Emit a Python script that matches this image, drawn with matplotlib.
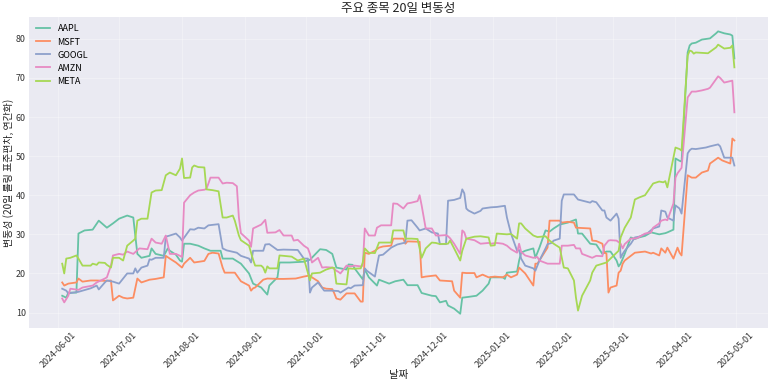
import matplotlib
matplotlib.use("Agg")
import matplotlib.pyplot as plt
import matplotlib.dates as mdates
import pandas as pd

plt.rcParams['font.family'] = ['Noto Sans CJK KR', 'DejaVu Sans']

# 20일 롤링 변동성 (연간화, %) - 그림에서 읽은 값
aapl = [("2024-06-03",14.3),("2024-06-05",13.8),("2024-06-06",15.1),("2024-06-10",15.1),("2024-06-11",30.2),("2024-06-14",31.0),("2024-06-18",31.2),("2024-06-21",33.5),("2024-06-25",31.7),("2024-06-28",32.8),("2024-07-01",34.0),("2024-07-05",34.8),("2024-07-08",34.3),("2024-07-10",25.0),("2024-07-12",24.0),("2024-07-16",24.5),("2024-07-17",26.4),("2024-07-19",25.0),("2024-07-23",24.5),("2024-07-25",26.4),("2024-07-26",25.8),("2024-07-29",24.8),("2024-07-31",23.3),("2024-08-01",23.0),("2024-08-02",27.6),("2024-08-05",27.6),("2024-08-09",27.1),("2024-08-12",26.4),("2024-08-15",25.8),("2024-08-20",25.8),("2024-08-21",23.8),("2024-08-26",23.8),("2024-08-30",22.5),("2024-09-03",20.0),("2024-09-05",17.4),("2024-09-09",16.4),("2024-09-12",14.6),("2024-09-13",16.9),("2024-09-17",19.0),("2024-09-18",22.8),("2024-09-23",22.8),("2024-09-30",23.0),("2024-10-03",23.5),("2024-10-08",26.2),("2024-10-11",26.0),("2024-10-14",25.0),("2024-10-16",21.5),("2024-10-21",21.0),("2024-10-22",22.3),("2024-10-24",22.2),("2024-10-25",21.3),("2024-10-29",18.5),("2024-10-30",21.0),("2024-11-01",19.0),("2024-11-05",16.9),("2024-11-06",18.4),("2024-11-11",17.4),("2024-11-14",18.0),("2024-11-18",18.4),("2024-11-20",17.0),("2024-11-25",17.0),("2024-11-27",15.0),("2024-12-02",14.3),("2024-12-04",14.2),("2024-12-06",12.6),("2024-12-09",13.0),("2024-12-10",11.8),("2024-12-13",11.0),("2024-12-16",9.7),("2024-12-17",13.8),("2024-12-20",14.0),("2024-12-24",14.3),("2024-12-27",15.6),("2024-12-30",17.4),("2024-12-31",19.0),("2025-01-06",19.0),("2025-01-07",18.6),("2025-01-08",20.2),("2025-01-13",20.5),("2025-01-14",23.3),("2025-01-15",25.3),("2025-01-17",25.8),("2025-01-21",26.4),("2025-01-22",24.0),("2025-01-24",26.6),("2025-01-27",31.0),("2025-01-29",30.7),("2025-01-31",31.5),("2025-02-03",32.5),("2025-02-07",33.0),("2025-02-11",33.8),("2025-02-12",30.2),("2025-02-14",30.2),("2025-02-18",27.6),("2025-02-21",27.4),("2025-02-24",25.0),("2025-02-26",25.6),("2025-02-28",25.6),("2025-03-03",23.3),("2025-03-04",21.8),("2025-03-05",22.5),("2025-03-07",25.0),("2025-03-10",29.2),("2025-03-12",28.8),("2025-03-14",29.2),("2025-03-17",29.6),("2025-03-20",30.5),("2025-03-24",30.0),("2025-03-27",30.3),("2025-03-28",30.5),("2025-03-31",31.2),("2025-04-01",49.4),("2025-04-03",48.8),("2025-04-04",48.6),("2025-04-07",76.5),("2025-04-08",78.3),("2025-04-09",78.8),("2025-04-11",79.0),("2025-04-14",79.8),("2025-04-18",80.1),("2025-04-21",81.4),("2025-04-22",81.9),("2025-04-25",81.4),("2025-04-28",81.1),("2025-04-29",80.8),("2025-04-30",75.0)]

msft = [("2024-06-03",17.7),("2024-06-04",16.9),("2024-06-06",17.4),("2024-06-10",17.7),("2024-06-11",18.7),("2024-06-13",17.9),("2024-06-17",18.2),("2024-06-20",18.2),("2024-06-24",18.1),("2024-06-27",18.2),("2024-06-28",13.1),("2024-07-01",14.3),("2024-07-03",13.8),("2024-07-05",13.6),("2024-07-08",13.8),("2024-07-10",18.7),("2024-07-12",17.7),("2024-07-16",18.4),("2024-07-19",18.6),("2024-07-23",19.0),("2024-07-24",24.5),("2024-07-26",23.8),("2024-07-29",22.8),("2024-08-01",21.5),("2024-08-02",22.5),("2024-08-05",24.0),("2024-08-07",22.8),("2024-08-12",23.2),("2024-08-14",25.0),("2024-08-16",25.3),("2024-08-19",25.1),("2024-08-21",21.5),("2024-08-22",20.2),("2024-08-27",20.2),("2024-08-30",18.0),("2024-09-03",16.9),("2024-09-04",15.6),("2024-09-05",16.2),("2024-09-06",16.4),("2024-09-10",18.4),("2024-09-12",18.7),("2024-09-18",18.6),("2024-09-20",18.6),("2024-09-26",18.7),("2024-09-30",19.2),("2024-10-03",19.5),("2024-10-04",19.0),("2024-10-07",18.0),("2024-10-09",16.4),("2024-10-11",16.1),("2024-10-14",16.0),("2024-10-15",14.9),("2024-10-16",13.6),("2024-10-18",13.3),("2024-10-21",14.9),("2024-10-25",14.9),("2024-10-28",12.8),("2024-10-29",12.8),("2024-10-30",25.3),("2024-11-01",25.0),("2024-11-04",25.8),("2024-11-06",26.6),("2024-11-08",26.9),("2024-11-12",27.1),("2024-11-13",28.9),("2024-11-18",28.9),("2024-11-19",27.6),("2024-11-20",28.2),("2024-11-26",28.1),("2024-11-27",19.0),("2024-11-29",19.2),("2024-12-04",19.5),("2024-12-06",18.2),("2024-12-12",18.0),("2024-12-13",15.6),("2024-12-16",13.8),("2024-12-17",20.2),("2024-12-19",20.1),("2024-12-23",20.1),("2024-12-24",19.0),("2024-12-27",19.7),("2024-12-30",19.0),("2025-01-02",19.2),("2025-01-06",19.0),("2025-01-08",19.7),("2025-01-10",19.0),("2025-01-13",19.7),("2025-01-14",21.5),("2025-01-17",20.0),("2025-01-21",16.9),("2025-01-22",22.5),("2025-01-23",22.5),("2025-01-27",25.8),("2025-01-28",26.6),("2025-01-29",33.5),("2025-02-03",33.5),("2025-02-04",33.0),("2025-02-07",33.2),("2025-02-10",33.0),("2025-02-11",31.7),("2025-02-18",31.5),("2025-02-19",28.4),("2025-02-21",28.3),("2025-02-24",27.6),("2025-02-25",25.3),("2025-02-26",25.1),("2025-02-27",15.1),("2025-02-28",16.4),("2025-03-03",16.9),("2025-03-04",20.2),("2025-03-05",20.7),("2025-03-06",22.5),("2025-03-07",23.3),("2025-03-12",25.3),("2025-03-17",25.6),("2025-03-20",25.1),("2025-03-21",25.3),("2025-03-24",24.6),("2025-03-25",26.4),("2025-03-27",25.3),("2025-03-28",26.6),("2025-03-31",23.8),("2025-04-02",26.6),("2025-04-03",25.3),("2025-04-04",24.6),("2025-04-07",45.1),("2025-04-09",44.5),("2025-04-11",44.5),("2025-04-14",45.8),("2025-04-17",46.3),("2025-04-18",48.1),("2025-04-22",49.6),("2025-04-24",48.9),("2025-04-28",48.1),("2025-04-29",54.5),("2025-04-30",54.0)]

googl = [("2024-06-03",16.1),("2024-06-05",15.6),("2024-06-06",14.9),("2024-06-11",15.3),("2024-06-13",15.6),("2024-06-17",16.2),("2024-06-20",16.9),("2024-06-21",15.9),("2024-06-24",17.7),("2024-06-25",18.2),("2024-06-28",17.9),("2024-07-01",17.4),("2024-07-03",18.7),("2024-07-05",20.0),("2024-07-08",20.0),("2024-07-09",21.3),("2024-07-10",20.2),("2024-07-12",21.5),("2024-07-15",22.0),("2024-07-16",23.6),("2024-07-17",23.5),("2024-07-19",24.0),("2024-07-23",24.0),("2024-07-24",29.4),("2024-07-26",29.7),("2024-07-29",30.2),("2024-07-31",29.2),("2024-08-01",28.4),("2024-08-05",31.3),("2024-08-07",31.2),("2024-08-09",31.7),("2024-08-12",31.5),("2024-08-14",32.3),("2024-08-19",32.6),("2024-08-21",26.4),("2024-08-23",25.9),("2024-08-28",25.3),("2024-08-30",24.5),("2024-09-03",23.8),("2024-09-04",22.8),("2024-09-05",25.8),("2024-09-10",25.8),("2024-09-11",27.4),("2024-09-13",27.5),("2024-09-17",26.0),("2024-09-20",26.1),("2024-09-27",26.0),("2024-09-30",23.8),("2024-10-02",23.8),("2024-10-03",15.1),("2024-10-04",16.4),("2024-10-07",17.7),("2024-10-08",17.0),("2024-10-10",15.6),("2024-10-14",15.6),("2024-10-17",15.5),("2024-10-18",15.1),("2024-10-22",16.4),("2024-10-23",16.2),("2024-10-25",16.9),("2024-10-29",17.0),("2024-10-30",21.3),("2024-10-31",20.7),("2024-11-04",19.2),("2024-11-05",22.0),("2024-11-06",24.6),("2024-11-08",24.8),("2024-11-12",26.6),("2024-11-15",27.4),("2024-11-19",27.9),("2024-11-20",33.5),("2024-11-22",33.6),("2024-11-25",31.7),("2024-11-26",31.0),("2024-11-29",31.5),("2024-12-02",30.5),("2024-12-05",30.2),("2024-12-06",27.5),("2024-12-09",27.5),("2024-12-10",38.6),("2024-12-13",38.8),("2024-12-16",39.3),("2024-12-17",41.5),("2024-12-18",40.5),("2024-12-19",36.6),("2024-12-20",36.1),("2024-12-23",35.3),("2024-12-26",36.0),("2024-12-27",36.6),("2024-12-31",36.9),("2025-01-03",37.0),("2025-01-07",37.3),("2025-01-08",34.3),("2025-01-10",30.2),("2025-01-13",25.8),("2025-01-14",26.0),("2025-01-15",23.8),("2025-01-17",22.0),("2025-01-21",21.3),("2025-01-22",20.7),("2025-01-24",23.3),("2025-01-27",26.4),("2025-01-28",27.5),("2025-01-30",27.8),("2025-01-31",28.4),("2025-02-03",28.9),("2025-02-04",38.6),("2025-02-05",40.2),("2025-02-10",40.2),("2025-02-12",38.9),("2025-02-18",38.1),("2025-02-19",38.5),("2025-02-21",38.2),("2025-02-24",36.1),("2025-02-25",36.1),("2025-02-26",34.3),("2025-02-28",33.5),("2025-03-03",35.3),("2025-03-04",34.0),("2025-03-05",24.0),("2025-03-06",25.0),("2025-03-07",25.8),("2025-03-10",27.6),("2025-03-12",29.2),("2025-03-14",29.4),("2025-03-18",30.2),("2025-03-21",31.5),("2025-03-24",32.0),("2025-03-25",36.1),("2025-03-27",35.8),("2025-03-28",34.3),("2025-03-31",33.5),("2025-04-01",37.4),("2025-04-03",36.6),("2025-04-04",35.3),("2025-04-07",50.7),("2025-04-08",51.5),("2025-04-09",51.9),("2025-04-11",51.8),("2025-04-16",52.2),("2025-04-18",52.5),("2025-04-22",53.0),("2025-04-23",52.5),("2025-04-25",49.6),("2025-04-29",49.6),("2025-04-30",47.6)]

amzn = [("2024-06-03",13.6),("2024-06-04",12.6),("2024-06-06",14.3),("2024-06-07",16.1),("2024-06-11",15.8),("2024-06-13",16.4),("2024-06-18",16.9),("2024-06-20",17.7),("2024-06-24",18.7),("2024-06-25",19.0),("2024-06-27",22.0),("2024-06-28",24.6),("2024-07-01",25.0),("2024-07-03",24.8),("2024-07-05",25.6),("2024-07-08",25.0),("2024-07-11",26.4),("2024-07-15",26.2),("2024-07-17",28.9),("2024-07-19",27.9),("2024-07-22",27.6),("2024-07-24",29.7),("2024-07-26",25.0),("2024-07-29",25.0),("2024-07-31",24.5),("2024-08-01",24.2),("2024-08-02",38.1),("2024-08-05",40.0),("2024-08-07",40.7),("2024-08-09",41.2),("2024-08-12",41.4),("2024-08-13",41.6),("2024-08-14",43.0),("2024-08-15",44.5),("2024-08-19",44.5),("2024-08-21",43.0),("2024-08-23",43.2),("2024-08-26",43.1),("2024-08-28",42.3),("2024-08-29",34.3),("2024-08-30",30.3),("2024-09-03",28.4),("2024-09-04",26.8),("2024-09-05",31.5),("2024-09-09",32.5),("2024-09-11",33.7),("2024-09-12",30.4),("2024-09-16",30.5),("2024-09-18",31.1),("2024-09-20",29.7),("2024-09-24",29.7),("2024-09-25",28.4),("2024-09-27",28.6),("2024-09-30",27.1),("2024-10-02",26.4),("2024-10-03",25.0),("2024-10-04",22.8),("2024-10-07",24.0),("2024-10-09",21.5),("2024-10-11",21.6),("2024-10-14",21.5),("2024-10-16",20.7),("2024-10-17",20.4),("2024-10-18",20.0),("2024-10-21",22.0),("2024-10-23",21.8),("2024-10-25",22.0),("2024-10-28",21.8),("2024-10-29",22.0),("2024-10-30",31.5),("2024-11-01",29.7),("2024-11-04",29.7),("2024-11-05",31.7),("2024-11-07",32.3),("2024-11-12",32.3),("2024-11-13",37.9),("2024-11-15",37.8),("2024-11-18",36.6),("2024-11-20",37.9),("2024-11-22",38.1),("2024-11-25",38.5),("2024-11-26",40.0),("2024-11-27",37.4),("2024-11-29",31.5),("2024-12-02",31.5),("2024-12-04",29.7),("2024-12-06",29.7),("2024-12-09",29.8),("2024-12-10",29.5),("2024-12-11",29.0),("2024-12-13",27.6),("2024-12-16",25.0),("2024-12-17",31.0),("2024-12-18",30.5),("2024-12-19",28.9),("2024-12-23",28.5),("2024-12-26",27.6),("2024-12-30",27.8),("2024-12-31",27.6),("2025-01-03",27.8),("2025-01-06",27.6),("2025-01-08",27.1),("2025-01-10",26.2),("2025-01-13",25.3),("2025-01-14",27.6),("2025-01-15",25.5),("2025-01-17",24.6),("2025-01-21",24.0),("2025-01-23",24.2),("2025-01-24",23.3),("2025-01-28",22.5),("2025-01-31",22.5),("2025-02-03",22.5),("2025-02-04",27.1),("2025-02-07",27.1),("2025-02-10",27.3),("2025-02-11",26.4),("2025-02-13",26.4),("2025-02-14",25.0),("2025-02-19",24.0),("2025-02-21",24.5),("2025-02-24",24.4),("2025-02-25",27.1),("2025-02-27",28.4),("2025-02-28",28.5),("2025-03-03",28.4),("2025-03-05",27.6),("2025-03-06",26.4),("2025-03-07",27.5),("2025-03-10",28.9),("2025-03-13",29.0),("2025-03-17",30.2),("2025-03-20",30.5),("2025-03-21",31.7),("2025-03-24",32.8),("2025-03-25",33.5),("2025-03-27",33.8),("2025-03-28",33.6),("2025-03-31",37.9),("2025-04-01",44.5),("2025-04-02",45.6),("2025-04-04",47.0),("2025-04-07",65.0),("2025-04-09",66.5),("2025-04-11",66.5),("2025-04-14",66.8),("2025-04-17",67.2),("2025-04-18",67.5),("2025-04-22",70.4),("2025-04-23",70.0),("2025-04-25",68.8),("2025-04-29",69.3),("2025-04-30",61.2)]

meta = [("2024-06-03",22.5),("2024-06-04",20.0),("2024-06-05",23.8),("2024-06-07",24.0),("2024-06-10",24.6),("2024-06-11",23.8),("2024-06-13",22.0),("2024-06-17",22.0),("2024-06-18",22.5),("2024-06-20",22.2),("2024-06-21",22.8),("2024-06-24",22.7),("2024-06-25",22.2),("2024-06-27",21.5),("2024-06-28",24.0),("2024-07-01",24.0),("2024-07-03",23.3),("2024-07-05",27.1),("2024-07-08",28.4),("2024-07-09",28.9),("2024-07-10",33.5),("2024-07-12",34.0),("2024-07-15",34.0),("2024-07-17",40.7),("2024-07-19",41.2),("2024-07-22",41.3),("2024-07-24",45.1),("2024-07-26",45.8),("2024-07-29",45.1),("2024-07-31",46.8),("2024-08-01",49.4),("2024-08-02",44.4),("2024-08-05",44.5),("2024-08-06",47.1),("2024-08-07",47.6),("2024-08-09",47.2),("2024-08-12",47.1),("2024-08-13",41.5),("2024-08-16",41.3),("2024-08-19",41.0),("2024-08-21",34.3),("2024-08-23",34.3),("2024-08-26",34.8),("2024-08-27",33.5),("2024-08-29",29.7),("2024-08-30",28.5),("2024-09-03",27.1),("2024-09-04",25.3),("2024-09-05",23.5),("2024-09-06",22.0),("2024-09-09",22.0),("2024-09-10",21.5),("2024-09-11",20.2),("2024-09-12",21.8),("2024-09-13",21.3),("2024-09-17",21.3),("2024-09-18",24.6),("2024-09-20",24.5),("2024-09-24",24.3),("2024-09-27",23.3),("2024-09-30",23.8),("2024-10-01",22.0),("2024-10-03",18.2),("2024-10-04",20.0),("2024-10-08",20.2),("2024-10-11",21.0),("2024-10-14",21.5),("2024-10-15",21.4),("2024-10-16",17.4),("2024-10-21",17.2),("2024-10-22",21.3),("2024-10-24",21.2),("2024-10-28",21.3),("2024-10-29",22.8),("2024-10-30",26.4),("2024-11-01",25.3),("2024-11-04",25.2),("2024-11-06",27.9),("2024-11-12",27.9),("2024-11-13",31.0),("2024-11-18",31.0),("2024-11-19",28.9),("2024-11-22",28.9),("2024-11-25",28.8),("2024-11-26",26.4),("2024-11-27",24.0),("2024-11-29",26.4),("2024-12-02",27.9),("2024-12-04",27.8),("2024-12-06",27.5),("2024-12-10",27.6),("2024-12-11",28.4),("2024-12-13",26.4),("2024-12-16",23.3),("2024-12-17",25.8),("2024-12-19",28.9),("2024-12-23",29.4),("2024-12-26",29.5),("2024-12-30",29.2),("2024-12-31",27.1),("2025-01-02",27.2),("2025-01-03",30.2),("2025-01-08",30.0),("2025-01-10",30.1),("2025-01-13",28.9),("2025-01-14",32.8),("2025-01-15",32.8),("2025-01-17",31.5),("2025-01-21",29.7),("2025-01-23",29.3),("2025-01-27",29.5),("2025-01-29",28.4),("2025-01-31",27.6),("2025-02-03",26.6),("2025-02-04",24.0),("2025-02-05",21.5),("2025-02-07",21.3),("2025-02-10",18.2),("2025-02-11",13.8),("2025-02-12",10.5),("2025-02-14",14.3),("2025-02-18",18.2),("2025-02-19",20.2),("2025-02-21",22.0),("2025-02-26",22.8),("2025-02-28",23.8),("2025-03-04",25.8),("2025-03-05",29.2),("2025-03-07",31.7),("2025-03-10",34.3),("2025-03-12",38.9),("2025-03-14",39.4),("2025-03-17",40.0),("2025-03-21",43.0),("2025-03-24",43.5),("2025-03-26",43.3),("2025-03-27",43.6),("2025-03-28",42.0),("2025-03-31",49.6),("2025-04-01",52.2),("2025-04-03",51.8),("2025-04-04",51.4),("2025-04-07",75.7),("2025-04-08",77.0),("2025-04-09",76.8),("2025-04-10",76.2),("2025-04-11",76.5),("2025-04-17",76.3),("2025-04-21",77.8),("2025-04-22",78.5),("2025-04-25",77.5),("2025-04-28",77.7),("2025-04-29",78.3),("2025-04-30",72.7)]

tickers = ["AAPL", "MSFT", "GOOGL", "AMZN", "META"]
series = [aapl, msft, googl, amzn, meta]
colors = ["#66c2a5", "#fc8d62", "#8da0cb", "#e78ac3", "#a6d854"]

fig, ax = plt.subplots(figsize=(7.73, 3.83), dpi=100)
fig.subplots_adjust(left=0.037, right=0.9935, top=0.955, bottom=0.144)
ax.set_facecolor("#eaeaf2")
for s in ax.spines.values():
    s.set_visible(False)

for name, data, c in zip(tickers, series, colors):
    d = pd.to_datetime([p[0] for p in data])
    v = [p[1] for p in data]
    ax.plot(d, v, color=c, linewidth=1.3, label=name)

ax.xaxis.set_major_locator(mdates.MonthLocator())
ax.xaxis.set_major_formatter(mdates.DateFormatter("%Y-%m-%d"))
plt.setp(ax.get_xticklabels(), rotation=45)
ax.tick_params(axis="both", labelsize=6.4, length=0, colors="#333333", pad=2)
ax.grid(True, color="white", linewidth=0.8, alpha=0.3)

ax.set_title("주요 종목 20일 변동성", fontsize=9, color="#222222", pad=4)
ax.set_xlabel("날짜", fontsize=7.5, color="#222222", labelpad=0)
ax.set_ylabel("변동성 (20일 롤링 표준편차, 연간화)", fontsize=7.2, color="#222222", labelpad=1)
ax.legend(loc="upper left", fontsize=6.5, frameon=False, handlelength=1.6,
          labelspacing=0.45, borderaxespad=0.4)

fig.savefig("out.png", dpi=100)
